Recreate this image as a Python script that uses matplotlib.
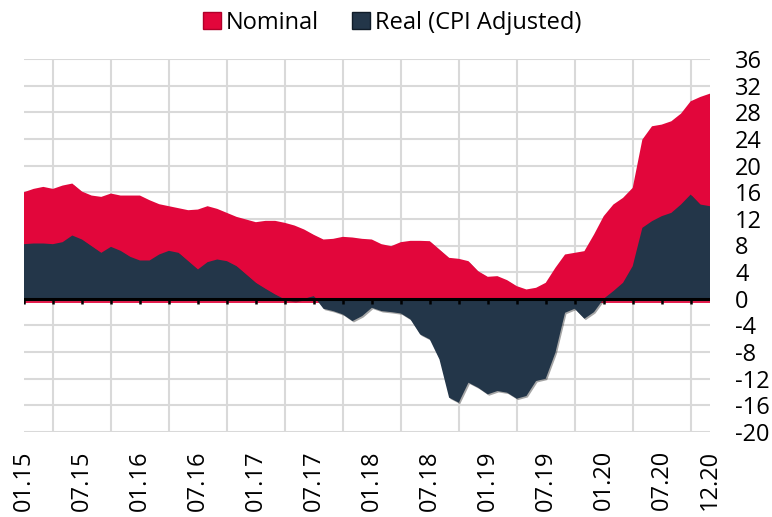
import matplotlib
matplotlib.use("Agg")
import matplotlib.pyplot as plt
import matplotlib.patheffects as pe
from matplotlib.patches import Patch
import numpy as np

plt.rcParams.update({
    "font.family": ["Open Sans", "DejaVu Sans"],
    "font.size": 17,
    "axes.unicode_minus": False,
})

# monthly yoy %, 01.15 .. 12.20
nominal = [16.0, 16.5, 16.8, 16.5, 17.0, 17.3, 16.1, 15.5, 15.3, 15.8, 15.5, 15.5,
           15.5, 14.8, 14.2, 13.9, 13.6, 13.3, 13.4, 13.9, 13.5, 12.9, 12.3, 11.9,
           11.5, 11.7, 11.7, 11.4, 11.0, 10.4, 9.6, 8.9, 9.0, 9.3, 9.2, 9.0,
           8.9, 8.2, 7.9, 8.5, 8.7, 8.7, 8.65, 7.4, 6.15, 6.0, 5.65, 4.15,
           3.3, 3.4, 2.8, 1.9, 1.4, 1.65, 2.4, 4.65, 6.65, 6.9, 7.15, 9.65,
           12.4, 14.15, 15.15, 16.65, 23.9, 25.9, 26.15, 26.65, 27.8, 29.65, 30.3, 30.8]
real = [8.2, 8.3, 8.3, 8.2, 8.5, 9.5, 8.9, 7.9, 6.9, 7.8, 7.2, 6.3,
        5.75, 5.75, 6.65, 7.2, 6.9, 5.65, 4.4, 5.5, 5.9, 5.65, 4.9, 3.65,
        2.4, 1.5, 0.65, -0.1, -0.35, 0.0, 0.4, -1.5, -1.85, -2.35, -3.35, -2.6,
        -1.35, -1.85, -2.0, -2.2, -3.1, -5.35, -6.1, -9.1, -14.85, -15.6, -12.6, -13.35,
        -14.35, -13.85, -14.1, -15.0, -14.6, -12.35, -12.0, -8.1, -2.1, -1.5, -3.0, -2.0,
        0.0, 1.15, 2.4, 4.9, 10.65, 11.65, 12.4, 12.9, 14.15, 15.65, 14.15, 13.9]
tick_labels = ["01.15", "07.15", "01.16", "07.16", "01.17", "07.17", "01.18",
               "07.18", "01.19", "07.19", "01.20", "07.20", "12.20"]

RED = "#E2063B"
NAVY = "#233649"
GRID = "#D9D9D9"

x = np.arange(len(nominal))
quarters = np.arange(0, len(nominal), 3)
ymin, ymax = -20, 36

fig = plt.figure(figsize=(7.72, 5.17), dpi=100)
ax = fig.add_axes([24/772, 1-432/517, (710-24)/772, (432-59)/517])

shadow = [pe.SimplePatchShadow(offset=(1, -1), shadow_rgbFace="black", alpha=0.35), pe.Normal()]
f1 = ax.fill_between(x, 0, nominal, color=RED, lw=0, zorder=2)
f1.set_path_effects(shadow)
ax.axhline(-0.45, color=RED, lw=1.3, zorder=2.1)
f2 = ax.fill_between(x, 0, real, color=NAVY, lw=0, zorder=3)
f2.set_path_effects(shadow)

ax.set_xlim(0, len(nominal) - 1)
ax.set_ylim(ymin, ymax)

# grid
ax.set_yticks(np.arange(ymin, ymax + 1, 4))
ax.set_xticks(quarters, minor=True)
ax.grid(True, axis="y", which="major", color=GRID, lw=1.5, zorder=0)
ax.grid(True, axis="x", which="minor", color=GRID, lw=1.5, zorder=0)
ax.set_axisbelow(True)

ticks = list(range(0, len(nominal), 6)) + [len(nominal) - 1]
ax.set_xticks(ticks)
ax.set_xticklabels(tick_labels, rotation=90, va="top", ha="center")
ax.tick_params(axis="x", which="both", length=0, pad=13)
ax.yaxis.tick_right()
ax.tick_params(axis="y", length=0, pad=18)
for lab in ax.get_yticklabels():
    lab.set_horizontalalignment("left")
for s in ax.spines.values():
    s.set_visible(False)

# zero line with quarterly ticks
ax.axhline(0, color="black", lw=2.2, zorder=4)
ax.vlines(quarters, -0.75, 0, color="black", lw=1.8, zorder=4)

handles = [Patch(facecolor=RED, edgecolor="#B0002A", label="Nominal"),
           Patch(facecolor=NAVY, edgecolor="#101C28", label="Real (CPI Adjusted)")]
fig.legend(handles=handles, loc="upper center", bbox_to_anchor=(0.508, 1.02), ncol=2,
           frameon=False, handlelength=0.75, handleheight=0.75, handletextpad=0.2,
           columnspacing=1.4)

fig.savefig("out.png", dpi=100, facecolor="white")
